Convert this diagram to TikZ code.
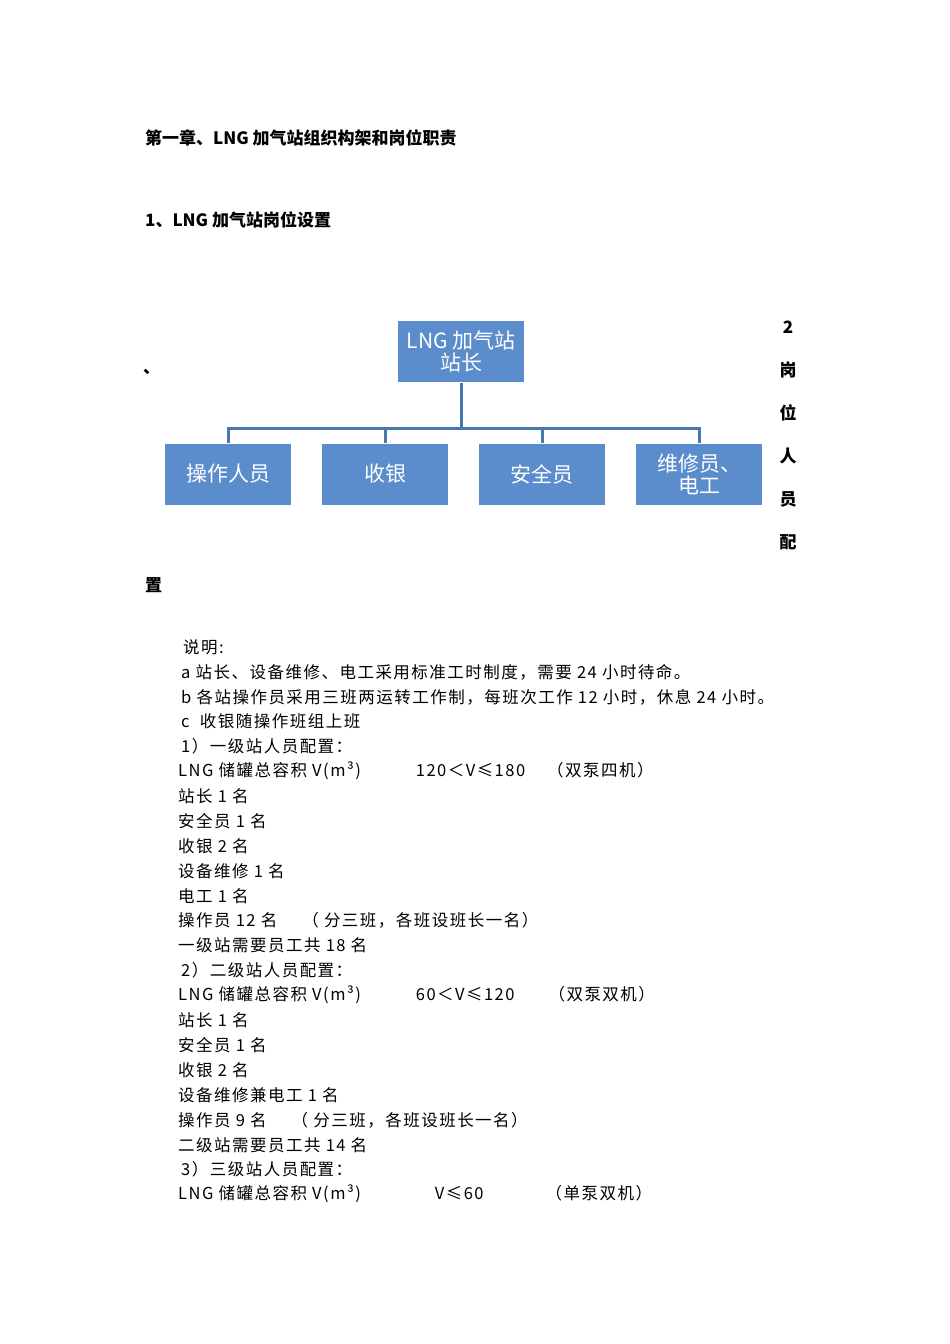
\documentclass[tikz,border=0pt]{standalone}
\usepackage{fontspec}
\setmainfont{Noto Sans CJK SC}
\newfontfamily\spaced[LetterSpace=9]{Noto Sans CJK SC}
\definecolor{boxblue}{RGB}{91,141,205}
\definecolor{lineblue}{RGB}{70,120,175}
\begin{document}
\begin{tikzpicture}[x=1pt,y=-1pt,
  box/.style={draw=white,line width=1pt,fill=boxblue,text=white,minimum width=127pt,minimum height=62pt,inner sep=0pt,align=center,font=\fontsize{21}{22}\selectfont},
  conn/.style={draw=lineblue,line width=3pt},
  txt/.style={anchor=west,inner sep=0pt,font=\spaced\fontsize{16.5}{18}\selectfont},
  hd/.style={anchor=west,inner sep=0pt,font=\fontsize{17}{19}\selectfont\bfseries}]
\useasboundingbox (0,0) rectangle (950,1344);
\node[hd] (h1) at (145,138) {第一章、LNG 加气站组织构架和岗位职责};
\node[hd] (h2) at (145,220) {1、LNG 加气站岗位设置};
\node[box] (top) at (461,351) {LNG 加气站\\站长};
\node[box] (b1) at (228,474) {操作人员};
\node[box] (b2) at (385,474) {收银};
\node[box] (b3) at (542,474) {安全员};
\node[box] (b4) at (699,474) {维修员、\\电工};
\coordinate (m) at (461,428);
\draw[conn] (top.south) -- (m);
\draw[conn] (b1.north) -- (b1.north|-m) -- (b4.north|-m) -- (b4.north);
\draw[conn] (b2.north) -- (b2.north|-m);
\draw[conn] (b3.north) -- (b3.north|-m);
\foreach \t/\y [count=\i] in {2/327,岗/370,位/413,人/456,员/499,配/542}
  \node[hd,anchor=center] (s\i) at (788,\y) {\t};
\node[hd] (dun) at (143,372) {、};
\node[hd] (zhi) at (145,585) {置};
\foreach \t/\x/\y [count=\i] in {
 {说明:}/183/647,
 {a 站长、设备维修、电工采用标准工时制度，需要 24 小时待命。}/181/672,
 {b 各站操作员采用三班两运转工作制，每班次工作 12 小时，休息 24 小时。}/181/697,
 {c\ \ 收银随操作班组上班}/181/721,
 {1）一级站人员配置：}/181/746,
 {LNG 储罐总容积 V(m³)\hspace{55pt}120＜V≤180\hspace{22pt}（双泵四机）}/178/771,
 {站长 1 名}/178/796,
 {安全员 1 名}/178/821,
 {收银 2 名}/178/846,
 {设备维修 1 名}/178/871,
 {电工 1 名}/178/896,
 {操作员 12 名\hspace{25pt}（ 分三班，各班设班长一名）}/178/920,
 {一级站需要员工共 18 名}/178/945,
 {2）二级站人员配置：}/181/970,
 {LNG 储罐总容积 V(m³)\hspace{55pt}60＜V≤120\hspace{34pt}（双泵双机）}/178/995,
 {站长 1 名}/178/1020,
 {安全员 1 名}/178/1045,
 {收银 2 名}/178/1070,
 {设备维修兼电工 1 名}/178/1095,
 {操作员 9 名\hspace{25pt}（ 分三班，各班设班长一名）}/178/1120,
 {二级站需要员工共 14 名}/178/1145,
 {3）三级站人员配置：}/181/1169,
 {LNG 储罐总容积 V(m³)\hspace{74pt}V≤60\hspace{62pt}（单泵双机）}/178/1194}
 \node[txt] (t\i) at (\x,\y) {\t};
\end{tikzpicture}
\end{document}
